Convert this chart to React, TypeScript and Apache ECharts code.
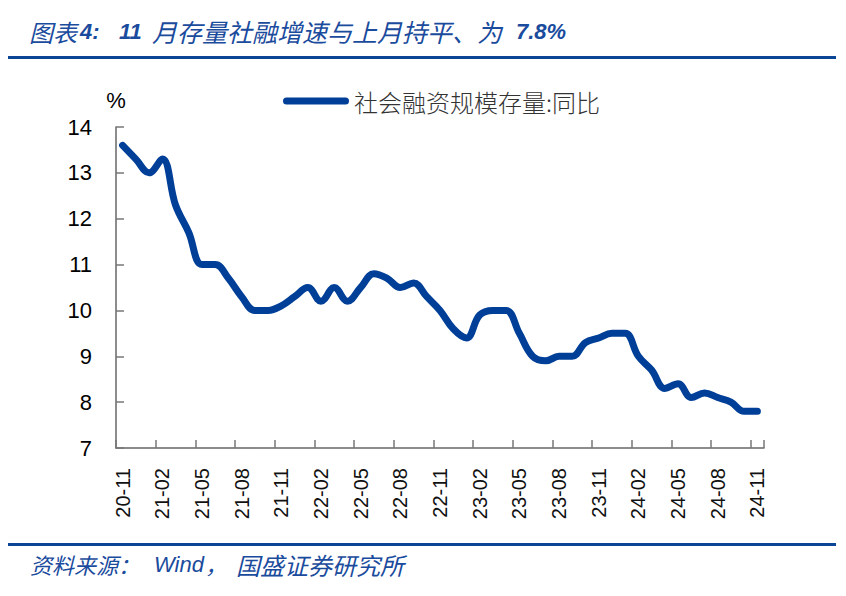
import React, { useEffect, useRef } from "react";
import * as echarts from "echarts";

const months: string[] = [
  "20-11", "20-12", "21-01", "21-02", "21-03", "21-04", "21-05", "21-06", "21-07", "21-08", "21-09", "21-10",
  "21-11", "21-12", "22-01", "22-02", "22-03", "22-04", "22-05", "22-06", "22-07", "22-08", "22-09", "22-10",
  "22-11", "22-12", "23-01", "23-02", "23-03", "23-04", "23-05", "23-06", "23-07", "23-08", "23-09", "23-10",
  "23-11", "23-12", "24-01", "24-02", "24-03", "24-04", "24-05", "24-06", "24-07", "24-08", "24-09", "24-10",
  "24-11",
];

const tsfYoY: number[] = [
  13.6, 13.3, 13.0, 13.3, 12.3, 11.7, 11.0, 11.0, 10.7, 10.3, 10.0, 10.0,
  10.1, 10.3, 10.5, 10.2, 10.5, 10.2, 10.5, 10.8, 10.7, 10.5, 10.6, 10.3,
  10.0, 9.6, 9.4, 9.9, 10.0, 10.0, 9.5, 9.0, 8.9, 9.0, 9.0, 9.3,
  9.4, 9.5, 9.5, 9.0, 8.7, 8.3, 8.4, 8.1, 8.2, 8.1, 8.0, 7.8,
  7.8,
];

const seriesName = "社会融资规模存量:同比";
const yMin = 7;
const yMax = 14;
const yInterval = 1;

const titleCjk1 = "图表";
const titleNum1 = "4:";
const titleNum2 = "11";
const titleCjk2 = "月存量社融增速与上月持平、为";
const titleNum3 = "7.8%";
const sourceA = "资料来源：";
const sourceB = "Wind";
const sourceC = "，";
const sourceD = "国盛证券研究所";

const BLUE_TEXT = "#1a4b9d";
const BLUE_RULE = "#0b4596";
const LINE_BLUE = "#003f98";
const CJK = "'Noto Sans CJK SC', sans-serif";
const LAT = "'Liberation Sans', Arial, sans-serif";

export default function App() {
  const ref = useRef<HTMLDivElement>(null);

  useEffect(() => {
    if (!ref.current) return;
    const chart = echarts.init(ref.current, undefined, { renderer: "svg" });

    const t = (x: number, y: number, text: string, size: number, family: string, weight: string = "normal") => ({
      type: "text",
      x,
      y,
      style: {
        text,
        fill: BLUE_TEXT,
        fontSize: size,
        fontFamily: family,
        fontStyle: "italic",
        fontWeight: weight,
        verticalAlign: "middle",
        align: "left",
      },
    });

    chart.setOption({
      animation: false,
      backgroundColor: "#ffffff",
      grid: { left: 116, right: 82, top: 127, bottom: 148, containLabel: false },
      legend: {
        show: true,
        left: 278,
        top: 84,
        itemWidth: 66,
        itemHeight: 7,
        itemGap: 10,
        icon: "path://M3.5,0 L62.5,0 A3.5,3.5 0 0 1 62.5,7 L3.5,7 A3.5,3.5 0 0 1 3.5,0 Z",
        textStyle: { fontSize: 24, fontFamily: CJK, fontWeight: 300, color: "#333333" },
        data: [seriesName],
      },
      xAxis: {
        type: "category",
        data: months,
        boundaryGap: true,
        axisLine: { show: true, lineStyle: { color: "#666666", width: 1.5 } },
        axisTick: { show: true, inside: true, length: 8, interval: 2, lineStyle: { color: "#777777", width: 1.5 } },
        axisLabel: {
          interval: 2,
          rotate: 90,
          margin: 20,
          fontSize: 20,
          fontFamily: LAT,
          color: "#111111",
        },
        splitLine: { show: false },
      },
      yAxis: {
        type: "value",
        min: yMin,
        max: yMax,
        interval: yInterval,
        name: "%",
        nameLocation: "end",
        nameGap: 16,
        nameTextStyle: { fontSize: 22, fontFamily: LAT, color: "#000000", align: "center" },
        axisLine: { show: true, lineStyle: { color: "#666666", width: 1.5 } },
        axisTick: { show: true, inside: true, length: 8, lineStyle: { color: "#777777", width: 1.5 } },
        axisLabel: { fontSize: 22, fontFamily: LAT, color: "#000000", margin: 24 },
        splitLine: { show: false },
      },
      series: [
        {
          name: seriesName,
          type: "line",
          data: tsfYoY,
          smooth: 0.4,
          symbol: "none",
          color: LINE_BLUE,
          lineStyle: { width: 7, color: LINE_BLUE, cap: "round", join: "round" },
        },
      ],
      graphic: [
        t(29, 31, titleCjk1, 24, CJK),
        t(80, 31, titleNum1, 22, LAT, "bold"),
        t(119, 31, titleNum2, 22, LAT, "bold"),
        t(152, 31, titleCjk2, 25, CJK),
        t(516, 31, titleNum3, 22, LAT, "bold"),
        { type: "rect", shape: { x: 8, y: 56, width: 828, height: 3 }, style: { fill: BLUE_RULE } },
        { type: "rect", shape: { x: 8, y: 543, width: 828, height: 3 }, style: { fill: BLUE_RULE } },
        t(30, 564, sourceA, 22, CJK),
        t(154, 564, sourceB, 22, LAT),
        t(205, 564, sourceC, 22, CJK),
        t(236, 564, sourceD, 24, CJK),
      ],
    });

    return () => {
      chart.dispose();
    };
  }, []);

  return <div ref={ref} style={{ position: "absolute", left: 0, top: 0, width: 846, height: 596 }} />;
}
